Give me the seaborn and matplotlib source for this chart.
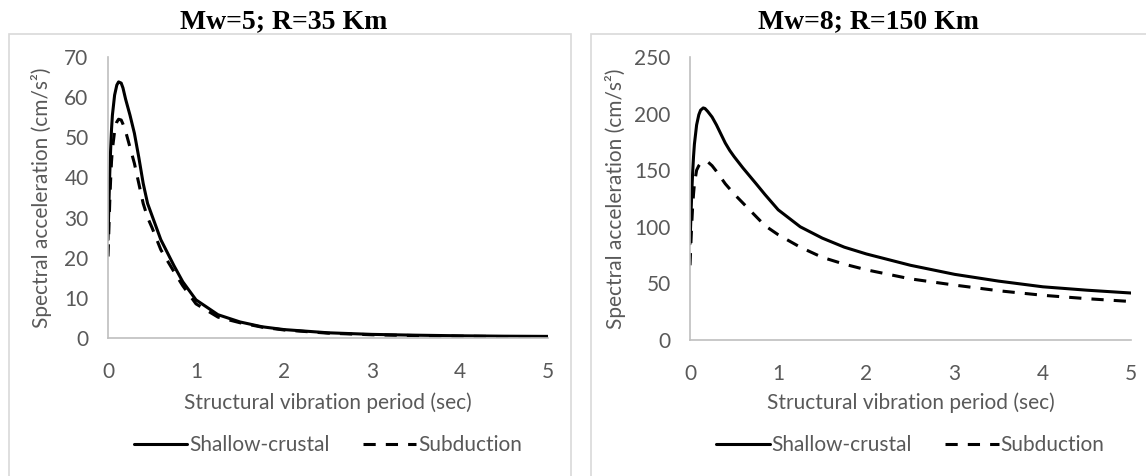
import matplotlib
matplotlib.use("Agg")
import matplotlib.pyplot as plt
from matplotlib.patches import Rectangle
import seaborn as sns
import pandas as pd

# ---------------- data ----------------
periods = [0, 0.01, 0.02, 0.03, 0.04, 0.05, 0.075, 0.1, 0.12, 0.15, 0.17, 0.2, 0.25,
           0.3, 0.35, 0.4, 0.45, 0.5, 0.6, 0.75, 0.85, 1.0, 1.25, 1.5, 1.75, 2.0,
           2.5, 3.0, 3.5, 4.0, 4.5, 5.0]

left_shallow = [24.5, 33, 41, 47, 52, 55.5, 60.5, 63, 63.8, 63.5, 62.3, 59.5, 55.5,
                51, 45, 38.5, 33.5, 30.5, 24.5, 18, 14, 9.5, 5.8, 4.0, 2.8, 2.1,
                1.3, 0.9, 0.7, 0.55, 0.45, 0.4]
left_subduction = [20.3, 27, 34, 39.5, 44, 47, 51.5, 53.8, 54.5, 54.3, 53.3, 51.5, 47.5,
                   43.5, 38.5, 33.5, 30, 27.5, 22, 16.5, 13, 8.5, 5.2, 3.8, 2.7, 2.0,
                   1.2, 0.8, 0.6, 0.45, 0.35, 0.3]

right_shallow = [85, 108, 130, 148, 162, 173, 190, 199, 203, 205, 204.5, 202, 197,
                 190, 182, 174, 167.5, 162, 152, 138, 128.5, 115, 100, 90, 82, 76,
                 66, 58, 52, 47, 44, 41.5]
right_subduction = [66, 85, 103, 118, 129, 138, 150, 154, 156, 157, 157.3, 157.5, 154,
                    149, 143.5, 138, 133.5, 129, 121, 109, 101, 93, 82, 73, 67, 62,
                    54, 48.5, 43.5, 39.5, 36.5, 34]

series_names = ["Shallow-crustal", "Subduction"]
titles = ["Mw=5; R=35 Km", "Mw=8; R=150 Km"]
x_label = "Structural vibration period (sec)"
y_label = "Spectral acceleration (cm/s²)"
x_ticks = [0, 1, 2, 3, 4, 5]
left_yticks = [0, 10, 20, 30, 40, 50, 60, 70]
right_yticks = [0, 50, 100, 150, 200, 250]

# ---------------- style ----------------
sns.set_style("white")
plt.rcParams["font.family"] = ["Lato", "DejaVu Sans"]
TXT = "#595959"
SPINE = "#bfbfbf"
BORDER = "#d9d9d9"
FS = 15

W, H = 1146, 476
fig = plt.figure(figsize=(W / 100, H / 100), dpi=100)


def fx(px):
    return px / W


def fy(py):
    return 1 - py / H


# panel borders
fig.patches.append(Rectangle((fx(9), fy(476) - 0.05), fx(571 - 9), fy(34) - fy(476) + 0.05,
                             transform=fig.transFigure, fill=False, edgecolor=BORDER,
                             linewidth=1.2, zorder=0))
fig.patches.append(Rectangle((fx(591), fy(476) - 0.05), fx(1146 - 591) + 0.05,
                             fy(34) - fy(476) + 0.05,
                             transform=fig.transFigure, fill=False, edgecolor=BORDER,
                             linewidth=1.2, zorder=0))

panels = [
    dict(box=(108, 548, 57, 338), shallow=left_shallow, sub=left_subduction,
         ymax=70, yticks=left_yticks, title=titles[0], tcx=284, ylab_x=42),
    dict(box=(690, 1131, 57, 340), shallow=right_shallow, sub=right_subduction,
         ymax=250, yticks=right_yticks, title=titles[1], tcx=868, ylab_x=615),
]

dash_map = {series_names[0]: "", series_names[1]: (4, 3.3)}

for p in panels:
    x0, x1, y0, y1 = p["box"]
    ax = fig.add_axes([fx(x0), fy(y1), fx(x1 - x0), fy(y0) - fy(y1)])
    df = pd.DataFrame({
        "T": periods * 2,
        "Sa": p["shallow"] + p["sub"],
        "Series": [series_names[0]] * len(periods) + [series_names[1]] * len(periods),
    })
    sns.lineplot(data=df, x="T", y="Sa", style="Series", dashes=dash_map,
                 color="black", linewidth=2.2, ax=ax, legend=False, sort=False)
    ax.set_xlim(0, 5)
    ax.set_ylim(0, p["ymax"])
    ax.set_xticks(x_ticks)
    ax.set_yticks(p["yticks"])
    ax.tick_params(axis="both", length=0, labelsize=FS, colors=TXT)
    ax.tick_params(axis="x", pad=17)
    ax.tick_params(axis="y", pad=14)
    for s in ["top", "right"]:
        ax.spines[s].set_visible(False)
    for s in ["left", "bottom"]:
        ax.spines[s].set_color(SPINE)
        ax.spines[s].set_linewidth(1.2)
    ax.set_facecolor("none")

    h = y1 - y0
    w = x1 - x0
    ax.set_xlabel(x_label, fontsize=FS, color=TXT)
    ax.xaxis.label.set_va("center")
    ax.xaxis.set_label_coords(0.5, (y1 - 403) / h)
    ax.set_ylabel(y_label, fontsize=FS, color=TXT)
    ax.yaxis.label.set_va("center")
    ax.yaxis.set_label_coords((p["ylab_x"] - x0) / w, 0.5)

    lines = ax.get_lines()[:2]
    ax.legend(lines, series_names, loc="center",
              bbox_to_anchor=(0.5, (y1 - 445) / h), ncol=2, frameon=False,
              fontsize=FS, handlelength=2.55, handletextpad=0.1,
              columnspacing=1.6, labelcolor=TXT)

    fig.text(fx(p["tcx"]), fy(28), p["title"], ha="center", va="baseline",
             fontsize=20, fontweight="bold", family="Liberation Serif", color="black")

fig.savefig("out.png", dpi=100)
